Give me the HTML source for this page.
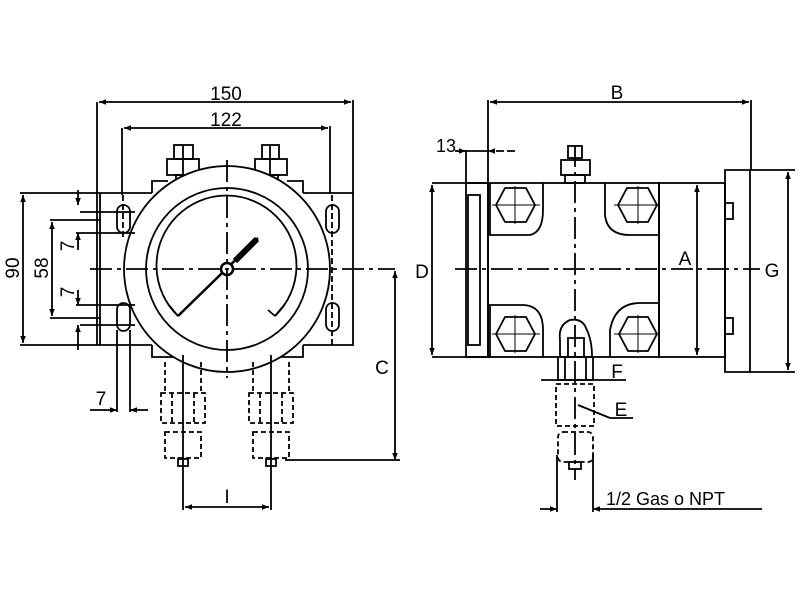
<!DOCTYPE html>
<html><head><meta charset="utf-8"><style>
html,body{margin:0;padding:0;background:#fff;}
svg{display:block;}
text{font-family:"Liberation Sans",sans-serif;fill:#000;}
</style></head><body>
<svg width="800" height="600" viewBox="0 0 800 600" xmlns="http://www.w3.org/2000/svg">
<defs>
<marker id="a" viewBox="0 0 10 10" refX="10" refY="5" markerWidth="9" markerHeight="7" orient="auto-start-reverse" markerUnits="userSpaceOnUse"><path d="M0,1 L10,5 L0,9 z" fill="#000"/></marker>
</defs>
<g fill="none" stroke="#000" stroke-width="1.8">
<!-- ===== LEFT VIEW ===== -->
<line x1="97" y1="102" x2="97" y2="345"/>
<line x1="353" y1="100" x2="353" y2="193"/>
<line x1="99" y1="102" x2="351" y2="102" marker-start="url(#a)" marker-end="url(#a)"/>
<line x1="122" y1="128" x2="122" y2="195"/>
<line x1="330" y1="126" x2="330" y2="193"/>
<line x1="124" y1="128" x2="328" y2="128" marker-start="url(#a)" marker-end="url(#a)"/>
<path d="M20,193 H152 M303,193 H353 V345 H303 M152,345 H20"/>
<line x1="100" y1="193" x2="100" y2="345"/>
<path d="M152,193 V181 H168 M287,181 H303 V193 M152,345 V357 H175 M280,357 H303 V345"/>
<rect x="117" y="205" width="13" height="28" rx="6.5"/>
<rect x="117" y="303" width="13" height="28" rx="6.5"/>
<rect x="326" y="205" width="13" height="28" rx="6.5"/>
<rect x="326" y="303" width="13" height="28" rx="6.5"/>
<rect x="174" y="145" width="19" height="14"/>
<rect x="167" y="159" width="32" height="16"/>
<rect x="176" y="175" width="14" height="8"/>
<rect x="262" y="145" width="17" height="14"/>
<rect x="255" y="159" width="32" height="16"/>
<rect x="264" y="175" width="14" height="8"/>
<line x1="183" y1="145" x2="183" y2="190"/>
<line x1="270" y1="145" x2="270" y2="190"/>
<circle cx="227" cy="269" r="103" fill="#fff"/>
<circle cx="227" cy="269" r="81"/>
<path d="M178,316 A70,70 0 1 1 275,316"/>
<line x1="178" y1="316" x2="168" y2="304"/>
<line x1="275" y1="316" x2="285" y2="304"/>
<line x1="275" y1="316" x2="268" y2="310"/>
<line x1="178" y1="316" x2="258" y2="238" stroke-width="2.5"/>
<line x1="235" y1="261" x2="257" y2="239" stroke-width="6"/>
<circle cx="227" cy="269" r="6" fill="#fff" stroke-width="2.5"/>
<line x1="90" y1="269" x2="395" y2="269" stroke-dasharray="22,5,4,5"/>
<line x1="227" y1="160" x2="227" y2="378" stroke-dasharray="22,5,4,5"/>
<line x1="123" y1="195" x2="123" y2="240" stroke-dasharray="6,3"/>
<line x1="332" y1="195" x2="332" y2="345" stroke-dasharray="6,3"/>
<g stroke-dasharray="5,3">
<path d="M165,362 V393 M201,362 V393 M161,393 H205 V423 H161 Z M165,432 H201 V458 H165 Z"/>
<path d="M253,362 V393 M289,362 V393 M249,393 H293 V423 H249 Z M253,432 H289 V458 H253 Z"/>
</g>
<line x1="172" y1="393" x2="172" y2="423" stroke-dasharray="5,3"/>
<line x1="194" y1="393" x2="194" y2="423" stroke-dasharray="5,3"/>
<line x1="260" y1="393" x2="260" y2="423" stroke-dasharray="5,3"/>
<line x1="282" y1="393" x2="282" y2="423" stroke-dasharray="5,3"/>
<rect x="178" y="459" width="10" height="7"/>
<rect x="266" y="459" width="10" height="7"/>
<line x1="183" y1="355" x2="183" y2="510"/>
<line x1="271" y1="355" x2="271" y2="510"/>
<line x1="185" y1="507" x2="269" y2="507" marker-start="url(#a)" marker-end="url(#a)"/>
<line x1="395" y1="271" x2="395" y2="460" marker-start="url(#a)" marker-end="url(#a)"/>
<line x1="285" y1="460" x2="400" y2="460"/>
<line x1="23" y1="195" x2="23" y2="343" marker-start="url(#a)" marker-end="url(#a)"/>
<line x1="50" y1="220" x2="100" y2="220"/>
<line x1="50" y1="318" x2="100" y2="318"/>
<line x1="52" y1="222" x2="52" y2="316" marker-start="url(#a)" marker-end="url(#a)"/>
<line x1="78" y1="190" x2="78" y2="205" marker-end="url(#a)"/>
<line x1="78" y1="250" x2="78" y2="233" marker-end="url(#a)"/>
<line x1="80" y1="212" x2="135" y2="212"/>
<line x1="76" y1="233" x2="135" y2="233"/>
<line x1="78" y1="290" x2="78" y2="305" marker-end="url(#a)"/>
<line x1="78" y1="350" x2="78" y2="325" marker-end="url(#a)"/>
<line x1="76" y1="305" x2="135" y2="305"/>
<line x1="80" y1="325" x2="135" y2="325"/>
<line x1="117" y1="330" x2="117" y2="412"/>
<line x1="130" y1="330" x2="130" y2="412"/>
<line x1="90" y1="410" x2="117" y2="410" marker-end="url(#a)"/>
<line x1="148" y1="410" x2="130" y2="410" marker-end="url(#a)"/>

<!-- ===== RIGHT VIEW ===== -->
<line x1="488" y1="100" x2="488" y2="183"/>
<line x1="751" y1="100" x2="751" y2="170"/>
<line x1="490" y1="102" x2="749" y2="102" marker-start="url(#a)" marker-end="url(#a)"/>
<line x1="466" y1="150" x2="466" y2="183"/>
<line x1="455" y1="151" x2="466" y2="151" marker-end="url(#a)"/>
<line x1="515" y1="151" x2="488" y2="151" marker-end="url(#a)" stroke-dasharray="8,3"/>
<line x1="466" y1="151" x2="488" y2="151"/>
<rect x="488" y="183" width="171" height="174"/>
<rect x="659" y="183" width="66" height="174"/>
<path d="M725,170 H750 V372 H725 Z"/>
<path d="M750,170 H795 M750,372 H795"/>
<rect x="725" y="203" width="8" height="16"/>
<rect x="725" y="318" width="8" height="16"/>
<path d="M432,183 H488 M432,357 H488"/>
<rect x="466" y="183" width="22" height="174"/>
<rect x="468" y="195" width="12" height="150"/>
<line x1="432" y1="185" x2="432" y2="355" marker-start="url(#a)" marker-end="url(#a)"/>
<path d="M490,183 V235 H530 Q543,232 543,210 V183"/>
<path d="M605,183 V215 Q607,235 630,235 H659"/>
<path d="M490,357 V305 H522 Q543,305 543,330 V357"/>
<path d="M610,357 V330 Q615,303 640,303 H659"/>
<polygon points="496,205 505,188 526,188 535,205 526,222 505,222"/>
<polygon points="618,205 627,188 648,188 657,205 648,222 627,222"/>
<polygon points="496,334 505,317 526,317 535,334 526,351 505,351"/>
<polygon points="619,334 628,317 648,317 657,334 648,351 628,351"/>
<g stroke-width="1">
<path d="M492,205 H540 M515,186 V224 M614,205 H660 M638,186 V224 M492,334 H540 M515,315 V353 M614,334 H660 M638,315 V353"/>
</g>
<rect x="568" y="146" width="14" height="12"/>
<rect x="561" y="160" width="29" height="15"/>
<rect x="565" y="175" width="20" height="8"/>
<path d="M560,356 V340 Q558,325 570,320 Q582,318 586,328 Q592,340 592,356"/>
<path d="M568,356 V338 H584 V356"/>
<line x1="455" y1="269" x2="760" y2="269" stroke-dasharray="22,5,4,5"/>
<line x1="575" y1="145" x2="575" y2="480" stroke-dasharray="22,5,4,5"/>
<line x1="697" y1="185" x2="697" y2="355" marker-start="url(#a)" marker-end="url(#a)"/>
<line x1="788" y1="172" x2="788" y2="370" marker-start="url(#a)" marker-end="url(#a)"/>
<rect x="558" y="357" width="35" height="23"/>
<line x1="565" y1="357" x2="565" y2="380"/>
<line x1="586" y1="357" x2="586" y2="380"/>
<line x1="541" y1="380" x2="626" y2="380"/>
<g stroke-dasharray="5,3">
<rect x="556" y="384" width="38" height="42"/>
<rect x="558" y="432" width="35" height="30" rx="5"/>
</g>
<rect x="569" y="462" width="12" height="7"/>
<line x1="557" y1="455" x2="557" y2="512"/>
<line x1="593" y1="455" x2="593" y2="512"/>
<line x1="540" y1="509" x2="557" y2="509" marker-end="url(#a)"/>
<line x1="762" y1="509" x2="593" y2="509" marker-end="url(#a)"/>
<line x1="578" y1="405" x2="610" y2="418"/>
<line x1="610" y1="418" x2="633" y2="418"/>
</g>
<text x="226" y="100" font-size="19" text-anchor="middle">150</text>
<text x="226" y="126" font-size="19" text-anchor="middle">122</text>
<text x="617" y="99" font-size="19" text-anchor="middle">B</text>
<text x="446" y="152" font-size="18" text-anchor="middle">13</text>
<text x="422" y="278" font-size="19" text-anchor="middle">D</text>
<text x="685" y="265" font-size="19" text-anchor="middle">A</text>
<text x="772" y="277" font-size="19" text-anchor="middle">G</text>
<text x="382" y="374" font-size="19" text-anchor="middle">C</text>
<text x="617" y="378" font-size="19" text-anchor="middle">F</text>
<text x="621" y="416" font-size="19" text-anchor="middle">E</text>
<text x="606" y="505" font-size="18">1/2 Gas o NPT</text>
<text x="227" y="503" font-size="19" text-anchor="middle">I</text>
<text x="101" y="405" font-size="19" text-anchor="middle">7</text>
<text transform="translate(19,268) rotate(-90)" font-size="19" text-anchor="middle">90</text>
<text transform="translate(48,268) rotate(-90)" font-size="19" text-anchor="middle">58</text>
<text transform="translate(74,246) rotate(-90)" font-size="19" text-anchor="middle">7</text>
<text transform="translate(74,292) rotate(-90)" font-size="19" text-anchor="middle">7</text>
</svg>
</body></html>
